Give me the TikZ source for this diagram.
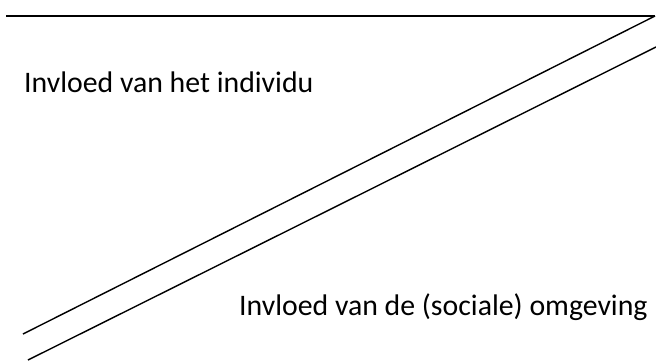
\documentclass[tikz,border=0pt]{standalone}
\usepackage{fontspec}
\setmainfont{Carlito}
\begin{document}
\begin{tikzpicture}[x=1pt,y=-1pt,
  lbl/.style={anchor=base west,inner sep=0pt,font=\fontsize{29.8}{32}\selectfont,text=black},
  topline/.style={line width=2pt,black},
  diagline/.style={line width=1.4pt,black}]
\useasboundingbox (0,0) rectangle (656,360);
\coordinate (tl) at (6,16);
\coordinate (tr) at (655,16);
\coordinate (b1) at (23,334);
\coordinate (r2) at (656,47);
\coordinate (b2) at (28,360);
\draw[topline] (tl) -- (tr);
\draw[diagline] (tr) -- (b1);
\draw[diagline] (r2) -- (b2);
\node[lbl] (ind) at (24,92) {Invloed van het individu};
\node[lbl] (omg) at (239,315) {Invloed van de (sociale) omgeving};
\end{tikzpicture}
\end{document}
